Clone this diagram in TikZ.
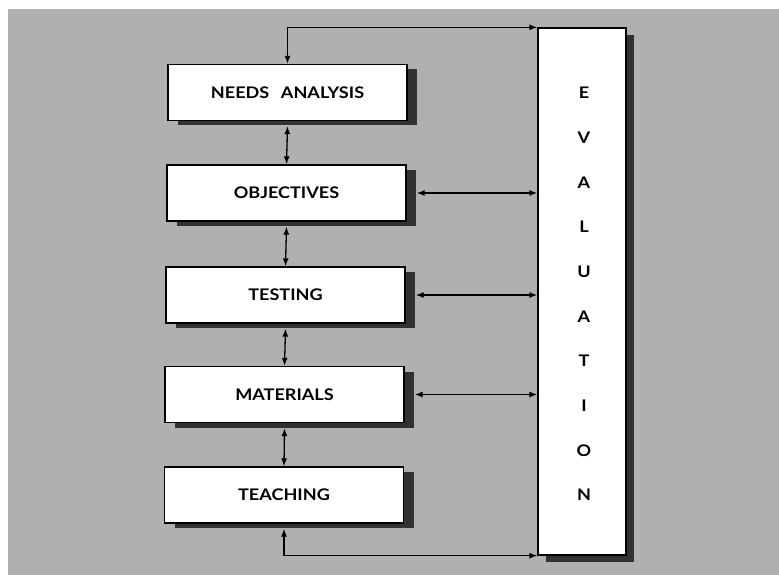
\documentclass[tikz,border=0pt]{standalone}
\usepackage{fontspec}
\setmainfont[FakeStretch=1.13]{Lato}
\usetikzlibrary{arrows.meta,shadows}
\definecolor{bg}{RGB}{176,176,176}
\definecolor{shade}{RGB}{50,50,50}
\tikzset{
  box/.style={draw=black,line width=1.3pt,fill=white,minimum width=239pt,minimum height=56pt,inner sep=0pt,
    font=\bfseries\fontsize{16}{19}\selectfont,
    drop shadow={shadow xshift=10pt,shadow yshift=-5pt,fill=shade,opacity=1}},
  evalbox/.style={draw=black,line width=1.3pt,fill=white,minimum width=88pt,minimum height=527pt,inner sep=0pt,
    drop shadow={shadow xshift=8pt,shadow yshift=-7pt,fill=shade,opacity=1}},
  evl/.style={font=\bfseries\fontsize{16}{19}\selectfont,inner sep=0pt},
  conn/.style={line width=1.3pt,{Latex[length=8pt,width=6pt]}-{Latex[length=8pt,width=6pt]}}
}
\begin{document}
\begin{tikzpicture}[x=1pt,y=-1pt]
\useasboundingbox (0,0) rectangle (779,575);
\fill[bg] (8,9) rectangle (779,575);
\node[box] (na) at (287.5,92.5) {NEEDS\hspace{0.45em} ANALYSIS};
\node[box] (obj) at (286.5,193) {OBJECTIVES};
\node[box] (test) at (285.5,295) {TESTING};
\node[box] (mat) at (284.5,394.5) {MATERIALS};
\node[box] (teach) at (284,495) {TEACHING};
\node[evalbox] (eval) at (582,291.5) {};
\foreach \l [count=\i] in {E,V,A,L,U,A,T,I,O,N}
  \node[evl] (ev\i) at (584,{93+44.67*(\i-1)}) {\l};
% vertical connectors
\draw[conn] ([yshift=-5pt]na.south) -- (obj.north);
\draw[conn] ([yshift=-5pt]obj.south) -- (test.north);
\draw[conn] ([yshift=-5pt]test.south) -- (mat.north);
\draw[conn] ([yshift=-5pt]mat.south) -- (teach.north);
% horizontal connectors
\draw[conn] ([xshift=10pt]obj.east) -- (obj.east -| eval.west);
\draw[conn] ([xshift=10pt]test.east) -- (test.east -| eval.west);
\draw[conn] ([xshift=10pt]mat.east) -- (mat.east -| eval.west);
% top and bottom loops
\draw[conn] (na.north) |- (eval.north west);
\draw[conn] ([yshift=-5pt]teach.south) |- (eval.south west);
\end{tikzpicture}
\end{document}
